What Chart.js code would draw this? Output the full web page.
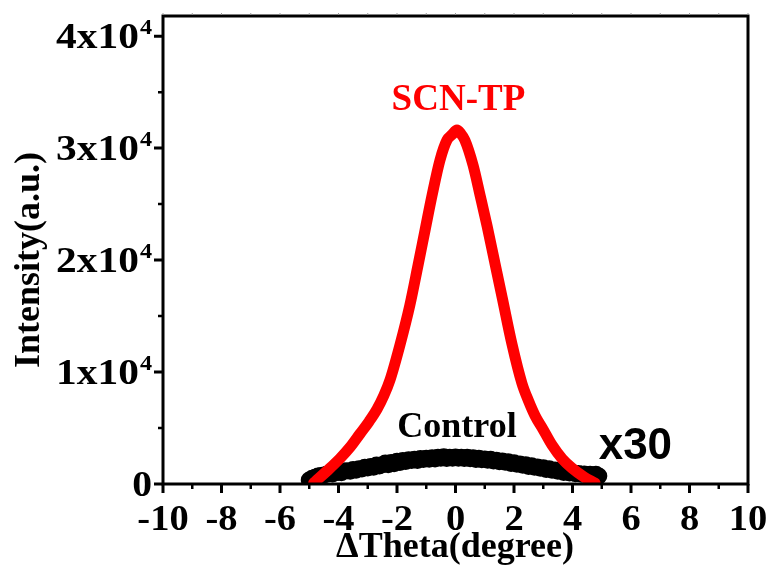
<!DOCTYPE html>
<html>
<head>
<meta charset="utf-8">
<script src="https://cdn.jsdelivr.net/npm/chart.js@4.4.0/dist/chart.umd.min.js"></script>
<style>
  html, body { margin: 0; padding: 0; background: #fff; }
  #wrap { width: 767px; height: 567px; }
</style>
</head>
<body>
<div id="wrap"><canvas id="myChart" width="767" height="567"></canvas></div>
<script>
// SCN-TP rocking curve (red)
var scn_x = [-4.85, -4.80, -4.4, -3.95, -3.6, -3.26, -2.95, -2.68, -2.45, -2.24, -1.90, -1.56, -1.28, -1.04, -0.80, -0.53, -0.29, -0.12, 0.05, 0.18, 0.32, 0.60, 0.84, 1.08, 1.33, 1.60, 1.93, 2.27, 2.50, 2.72, 3.00, 3.30, 3.65, 3.98, 4.40, 4.77];
var scn_y = [80, 200, 1150, 2280, 3300, 4500, 5600, 6700, 7900, 9290, 12410, 15980, 19550, 22680, 25800, 28930, 30720, 31200, 31610, 31300, 30720, 28480, 25800, 23050, 19950, 16600, 12500, 9000, 7400, 6100, 4850, 3480, 2250, 1430, 620, 90];

// Control curve (black, x30)
var ctrl_x = [-5.0, -4.9, -4.8, -4.7, -4.6, -4.5, -4.4, -4.3, -4.2, -4.1, -4.0, -3.9, -3.8, -3.7, -3.6, -3.5, -3.4, -3.3, -3.2, -3.1, -3.0, -2.9, -2.8, -2.7, -2.6, -2.5, -2.4, -2.3, -2.2, -2.1, -2.0, -1.9, -1.8, -1.7, -1.6, -1.5, -1.4, -1.3, -1.2, -1.1, -1.0, -0.9, -0.8, -0.7, -0.6, -0.5, -0.4, -0.3, -0.2, -0.1, 0.0, 0.1, 0.2, 0.3, 0.4, 0.5, 0.6, 0.7, 0.8, 0.9, 1.0, 1.1, 1.2, 1.3, 1.4, 1.5, 1.6, 1.7, 1.8, 1.9, 2.0, 2.1, 2.2, 2.3, 2.4, 2.5, 2.6, 2.7, 2.8, 2.9, 3.0, 3.1, 3.2, 3.3, 3.4, 3.5, 3.6, 3.7, 3.8, 3.9, 4.0, 4.1, 4.2, 4.3, 4.4, 4.5, 4.6, 4.7, 4.8, 4.9];
var ctrl_y = [350, 520, 610, 720, 760, 800, 870, 940, 900, 1030, 1050, 1010, 1160, 1190, 1130, 1290, 1220, 1370, 1340, 1490, 1430, 1570, 1490, 1690, 1610, 1730, 1870, 1720, 1910, 1810, 2040, 1930, 2090, 2000, 2160, 2090, 2220, 2110, 2270, 2180, 2290, 2210, 2350, 2240, 2380, 2300, 2430, 2280, 2400, 2310, 2420, 2290, 2400, 2270, 2380, 2260, 2350, 2190, 2310, 2170, 2240, 2120, 2210, 2060, 2120, 1990, 2060, 1950, 1990, 1840, 1900, 1770, 1790, 1680, 1720, 1570, 1630, 1500, 1520, 1410, 1450, 1300, 1360, 1230, 1250, 1140, 1180, 1030, 1090, 980, 1000, 910, 940, 870, 890, 820, 870, 760, 870, 720];

var x_ticks = [-10, -8, -6, -4, -2, 0, 2, 4, 6, 8, 10];
var x_minor = [-9, -7, -5, -3, -1, 1, 3, 5, 7, 9];
var y_ticks = [0, 10000, 20000, 30000, 40000];
var y_minor = [5000, 15000, 25000, 35000];
var y_tick_base = ['0', '1x10', '2x10', '3x10', '4x10'];
var y_tick_sup = ['', '4', '4', '4', '4'];

function pts(xs, ys) {
  var out = [];
  for (var i = 0; i < xs.length; i++) out.push({x: xs[i], y: ys[i]});
  return out;
}

var SERIF = '"Liberation Serif", "Times New Roman", serif';
var SANS = '"Liberation Sans", Arial, sans-serif';

// text stretched sideways a little, like the original figure
function wideText(ctx, text, x, y, sx) {
  ctx.save();
  ctx.translate(x, y);
  ctx.scale(sx, 1);
  ctx.fillText(text, 0, 0);
  ctx.restore();
}

var framePlugin = {
  id: 'frame',
  afterDraw: function(chart) {
    var ctx = chart.ctx;
    var xs = chart.scales.x, ys = chart.scales.y;
    var a = chart.chartArea;
    ctx.save();
    ctx.strokeStyle = '#000';
    ctx.lineWidth = 3;
    ctx.strokeRect(a.left, a.top, a.right - a.left, a.bottom - a.top);

    // ticks
    ctx.beginPath();
    x_ticks.forEach(function(v) {
      var px = xs.getPixelForValue(v);
      ctx.moveTo(px, a.bottom); ctx.lineTo(px, a.bottom + 9);
    });
    y_ticks.forEach(function(v) {
      var py = ys.getPixelForValue(v);
      ctx.moveTo(a.left, py); ctx.lineTo(a.left - 9, py);
    });
    ctx.stroke();
    ctx.lineWidth = 2.5;
    ctx.beginPath();
    x_minor.forEach(function(v) {
      var px = xs.getPixelForValue(v);
      ctx.moveTo(px, a.bottom); ctx.lineTo(px, a.bottom + 5);
    });
    y_minor.forEach(function(v) {
      var py = ys.getPixelForValue(v);
      ctx.moveTo(a.left, py); ctx.lineTo(a.left - 5, py);
    });
    ctx.stroke();
    // faint ticks along the top edge
    ctx.strokeStyle = '#999';
    ctx.lineWidth = 1;
    ctx.beginPath();
    x_ticks.concat(x_minor).forEach(function(v) {
      var px = xs.getPixelForValue(v);
      ctx.moveTo(px, a.top - 1); ctx.lineTo(px, a.top - 3);
    });
    ctx.stroke();

    // tick labels
    ctx.fillStyle = '#000';
    ctx.font = 'bold 35px ' + SERIF;
    ctx.textAlign = 'center';
    ctx.textBaseline = 'alphabetic';
    x_ticks.forEach(function(v) {
      wideText(ctx, String(v), xs.getPixelForValue(v), a.bottom + 46, 1.1);
    });
    y_ticks.forEach(function(v, i) {
      var py = ys.getPixelForValue(v);
      var right = a.left - 13;
      ctx.textAlign = 'right';
      if (y_tick_sup[i]) {
        ctx.font = 'bold 22px ' + SERIF;
        wideText(ctx, y_tick_sup[i], right + 2, py - 2, 1.1);
        var w = ctx.measureText(y_tick_sup[i]).width * 1.1;
        ctx.font = 'bold 36px ' + SERIF;
        wideText(ctx, y_tick_base[i], right + 1 - w, py + 12, 1.15);
      } else {
        ctx.font = 'bold 36px ' + SERIF;
        wideText(ctx, y_tick_base[i], right + 2, py + 12, 1.1);
      }
    });

    // axis titles
    ctx.font = 'bold 36px ' + SERIF;
    ctx.textAlign = 'center';
    ctx.fillText('\u0394Theta(degree)', 455, 557);
    ctx.save();
    ctx.translate(39, 260);
    ctx.rotate(-Math.PI / 2);
    ctx.fillText('Intensity(a.u.)', 0, 0);
    ctx.restore();

    // annotations
    ctx.textBaseline = 'middle';
    ctx.fillStyle = '#ff0000';
    ctx.font = 'bold 37px ' + SERIF;
    ctx.fillText('SCN-TP', xs.getPixelForValue(0.1), ys.getPixelForValue(34300));
    ctx.fillStyle = '#000';
    ctx.font = 'bold 36px ' + SERIF;
    ctx.fillText('Control', xs.getPixelForValue(0.05), ys.getPixelForValue(5000));
    ctx.font = 'bold 44px ' + SANS;
    ctx.fillText('x30', xs.getPixelForValue(6.15), ys.getPixelForValue(3300));
    ctx.restore();
  }
};

var config = {
  type: 'scatter',
  data: {
    datasets: [
      {
        label: 'SCN-TP',
        data: pts(scn_x, scn_y),
        showLine: true,
        borderColor: '#ff0000',
        backgroundColor: '#ff0000',
        borderWidth: 11,
        pointRadius: 0,
        cubicInterpolationMode: 'monotone',
        borderCapStyle: 'round',
        borderJoinStyle: 'round',
        order: 0
      },
      {
        label: 'Control',
        data: pts(ctrl_x, ctrl_y),
        showLine: true,
        borderColor: '#000',
        backgroundColor: '#000',
        borderWidth: 11,
        pointRadius: 3,
        tension: 0,
        borderCapStyle: 'round',
        borderJoinStyle: 'round',
        order: 1
      }
    ]
  },
  options: {
    responsive: false,
    animation: false,
    layout: { padding: { left: 163, right: 19, top: 16, bottom: 83 } },
    plugins: { legend: { display: false }, tooltip: { enabled: false } },
    scales: {
      x: { type: 'linear', min: -10, max: 10, display: false },
      y: { type: 'linear', min: 0, max: 41800, display: false }
    }
  },
  plugins: [framePlugin]
};

var myChart = new Chart(document.getElementById('myChart'), config);
</script>
</body>
</html>
